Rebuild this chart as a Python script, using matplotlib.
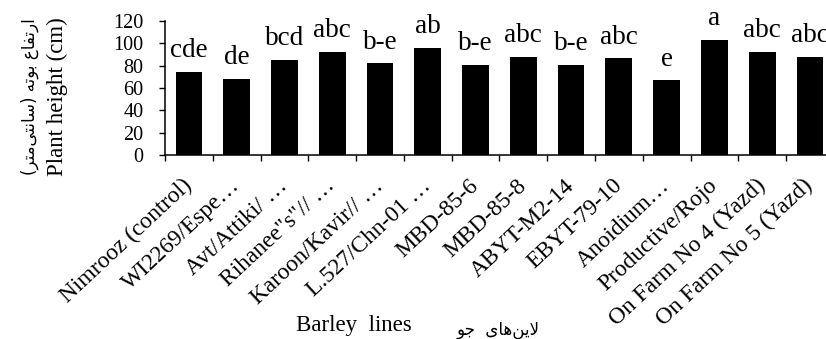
import numpy as np
import matplotlib
matplotlib.use("Agg")
import matplotlib.pyplot as plt

plt.rcParams['font.family'] = ['Liberation Serif', 'DejaVu Sans']

lines = ['Nimrooz (control)', 'WI2269/Espe…', 'Avt/Attiki/ …', 'Rihanee"s"// …',
         'Karoon/Kavir// …', 'L.527/Chn-01 …', 'MBD-85-6', 'MBD-85-8', 'ABYT-M2-14',
         'EBYT-79-10', 'Anoidium…', 'Productive/Rojo', 'On Farm No 4 (Yazd)',
         'On Farm No 5 (Yazd)']
height = [74.6, 68.3, 85.0, 92.5, 82.0, 95.8, 80.6, 88.0, 80.6, 86.6, 66.9, 103.2, 92.5, 88.0]
groups = ['cde', 'de', 'bcd', 'abc', 'b-e', 'ab', 'b-e', 'abc', 'b-e', 'abc', 'e', 'a', 'abc', 'abc']

# persian labels, pre-shaped (presentation forms, visual order)
fa_ylabel = '(\uFEAE\uFE98\uFEE3\uFEF0\uFE98\uFEE7\uFE8E\uFEB3) \uFEEA\uFE97\uFEEE\uFE91 \uFEC9\uFE8E\uFED4\uFE97\uFEAD\uFE8D'
fa_xlabel = '\uFEEE\uFE9F  \uFEEF\uFE8E\uFEEB\uFEE6\uFEF3\uFEFB'

serif = ['Liberation Serif', 'DejaVu Sans']

fig = plt.figure(figsize=(8.26, 3.39), dpi=100)
ax = fig.add_axes([0.1998, 0.5428, 0.8097, 0.3953])

x = np.arange(len(lines))
bars = ax.bar(x, height, width=0.56, color='black')

for xi, h, g in zip(x, height, groups):
    ax.annotate(g, (xi, h), xytext=(0, 10.5), textcoords='offset points',
                ha='center', va='baseline', fontsize=19.5, family=serif)

ax.set_xlim(-0.5, len(lines) - 0.5)
ax.set_ylim(0, 120)
ax.set_yticks(range(0, 121, 20))
ax.tick_params(axis='y', labelsize=14.5, length=4.5, width=1, pad=11)

ax.set_xticks(np.arange(-0.5, len(lines)), [''] * (len(lines) + 1))
ax.set_xticks(x, lines, minor=True)
ax.tick_params(axis='x', which='major', length=4.5, width=1)
ax.tick_params(axis='x', which='minor', length=0, pad=20, labelsize=16.8)
for lbl in ax.get_xticklabels(minor=True):
    lbl.set_rotation(43)
    lbl.set_ha('right')
    lbl.set_va('center')
    lbl.set_rotation_mode('anchor')
for lbl in ax.get_yticklabels():
    lbl.set_family(serif)

for s in ['top', 'right']:
    ax.spines[s].set_visible(False)
for s in ['left', 'bottom']:
    ax.spines[s].set_linewidth(1.1)

fig.text(57 / 826, 1 - 97 / 339, 'Plant height (cm)', rotation=90,
         ha='center', va='center', fontsize=16.5, family=serif)
fig.text(30 / 826, 1 - 97 / 339, fa_ylabel, rotation=90,
         ha='center', va='center', fontsize=12, family=['DejaVu Sans'])
fig.text(354 / 826, 1 - 326 / 339, 'Barley  lines', ha='center', va='center',
         fontsize=16.5, family=serif)
fig.text(498 / 826, 1 - 330 / 339, fa_xlabel, ha='center', va='center',
         fontsize=12, family=['DejaVu Sans'])

fig.savefig('out.png', dpi=100)
